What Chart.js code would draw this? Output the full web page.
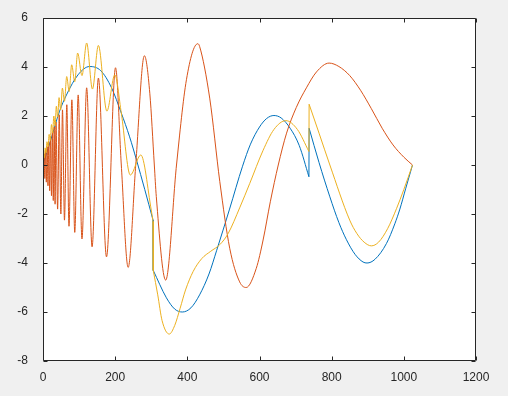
<!DOCTYPE html>
<html>
<head>
<meta charset="utf-8">
<script src="https://cdn.jsdelivr.net/npm/chart.js@4/dist/chart.umd.min.js"></script>
<style>
  body { margin: 0; background: #f0f0f0; }
  #wrap { width: 508px; height: 396px; }
</style>
</head>
<body>
<div id="wrap"><canvas id="chart" width="508" height="396"></canvas></div>
<script>
// axis ticks
var xTicks = [0, 200, 400, 600, 800, 1000, 1200];
var yTicks = [-8, -6, -4, -2, 0, 2, 4, 6];

// blue series, jumps at x ~305 and ~737
var blueX = [0, 20, 46, 65, 97, 129, 160, 190, 217, 240, 259, 282, 305, 305.5, 342, 365, 386, 410, 434, 460, 481, 517, 553, 575, 600, 620, 640, 660, 685, 710, 737, 737.5, 765, 795, 820, 841, 865, 887, 898, 920, 952, 975, 989, 1005, 1024];
var blueY = [0, 0.95, 2.2, 2.86, 3.68, 4.02, 3.85, 3.15, 2.12, 1.15, 0.21, -1.0, -2.25, -4.3, -5.42, -5.88, -6.0, -5.83, -5.3, -4.45, -3.5, -1.8, -0.05, 0.85, 1.55, 1.9, 2.02, 1.92, 1.5, 0.8, -0.48, 1.5, 0.1, -1.3, -2.35, -3.05, -3.65, -3.96, -4.0, -3.85, -3.2, -2.4, -1.8, -0.97, 0];

// red series
var redX = [0, 1, 3, 5, 7, 9.2, 11.5, 13.8, 16, 18.5, 21, 23.5, 26, 28.5, 31, 33.5, 36, 40.5, 45, 49.5, 54, 59.5, 66, 72, 80, 88, 97.5, 108, 121, 136, 153.5, 176, 201, 217, 236, 257, 281, 296, 308.5, 314, 340, 370, 397.5, 429, 434, 462, 490, 517.5, 545, 563, 591, 610, 630, 652, 675, 702, 730, 758, 793, 820, 850, 880, 910, 940, 970, 1000, 1024];
var redY = [0, -0.45, 0.45, -0.55, 0.6, -0.7, 0.75, -0.85, 0.95, -1.05, 1.15, -1.25, 1.35, -1.45, 1.55, -1.6, 1.75, -1.8, 2.05, -2.0, 2.25, -2.25, 2.46, -2.5, 2.66, -2.75, 2.86, -3.02, 3.15, -3.34, 3.55, -3.75, 3.97, 0, -4.18, 0, 4.46, 2.93, 0, -1.29, -4.7, 0, 3.48, 4.95, 4.84, 2.73, -0.68, -3.4, -4.77, -5.0, -4.22, -3.06, -1.5, 0, 1.3, 2.35, 3.15, 3.8, 4.16, 4.02, 3.65, 3.05, 2.3, 1.5, 0.82, 0.32, 0];

// yellow series, same jumps as blue
var yellowX = [0, 2, 4, 6, 8.5, 11, 14, 17, 20, 23.5, 26.7, 30, 33.5, 37, 40.7, 44.5, 49, 53.7, 59.5, 65.7, 72.5, 79.5, 88, 96, 108, 121, 137, 153.5, 177, 199, 217, 242, 271, 300, 305, 305.5, 318, 330, 350, 365, 380, 395, 416, 440, 465, 490, 513, 545, 573, 610, 640, 673, 705, 737, 737.5, 765, 795, 850, 870, 890, 910, 930, 955, 980, 1000, 1024];
var yellowY = [0.15, 0.45, 0.3, 0.7, 0.5, 0.95, 0.75, 1.25, 1.0, 1.65, 1.3, 2.0, 1.6, 2.4, 1.95, 2.75, 2.25, 3.14, 2.6, 3.61, 3.0, 4.09, 3.4, 4.57, 3.65, 4.98, 3.1, 4.88, 2.2, 3.68, 2.12, -0.41, 0.41, -1.84, -2.3, -4.3, -5.3, -6.35, -6.9, -6.55, -5.85, -5.1, -4.35, -3.82, -3.52, -3.25, -2.8, -1.75, -0.75, 0.6, 1.45, 1.81, 1.45, 0.55, 2.48, 1.3, 0, -2.25, -2.8, -3.15, -3.3, -3.15, -2.6, -1.77, -1.0, 0];

// split a series into smooth pieces, with straight vertical pieces at the jumps
function makeSets(xs, ys, color, order) {
  var sets = [];
  var piece = [];
  for (var i = 0; i < xs.length; i++) {
    piece.push({ x: xs[i], y: ys[i] });
    if (i < xs.length - 1 && xs[i + 1] - xs[i] < 1) {
      sets.push(lineSet(piece, color, order, true));
      sets.push(lineSet([{ x: xs[i], y: ys[i] }, { x: xs[i + 1], y: ys[i + 1] }], color, order, false));
      piece = [];
    }
  }
  sets.push(lineSet(piece, color, order, true));
  return sets;
}

function lineSet(points, color, order, smooth) {
  return {
    data: points,
    borderColor: color,
    backgroundColor: color,
    borderWidth: 1,
    pointRadius: 0,
    showLine: true,
    fill: false,
    tension: 0,
    cubicInterpolationMode: smooth ? 'monotone' : 'default',
    order: order
  };
}

var axisColor = '#262626';
var tickFont = { family: 'Liberation Sans, Arial, sans-serif', size: 12 };

// plot box, white plot area and inward tick marks like the original
var boxPlugin = {
  id: 'box',
  beforeDraw: function(chart) {
    var c = chart.ctx, a = chart.chartArea;
    c.save();
    c.fillStyle = '#f0f0f0';
    c.fillRect(0, 0, chart.width, chart.height);
    c.fillStyle = '#ffffff';
    c.fillRect(a.left, a.top, a.right - a.left, a.bottom - a.top);
    c.restore();
  },
  afterDraw: function(chart) {
    var c = chart.ctx, a = chart.chartArea;
    var xs = chart.scales.x, ys = chart.scales.y;
    var L = Math.round(a.left) + 0.5, R = Math.round(a.right) - 0.5;
    var T = Math.round(a.top) + 0.5, B = Math.round(a.bottom) - 0.5;
    var len = 4;
    c.save();
    c.strokeStyle = axisColor;
    c.lineWidth = 1;
    c.beginPath();
    c.rect(L, T, R - L, B - T);
    xTicks.forEach(function(v) {
      var px = Math.round(xs.getPixelForValue(v)) + 0.5;
      c.moveTo(px, B); c.lineTo(px, B - len);
      c.moveTo(px, T); c.lineTo(px, T + len);
    });
    yTicks.forEach(function(v) {
      var py = Math.round(ys.getPixelForValue(v)) + 0.5;
      c.moveTo(L, py); c.lineTo(L + len, py);
      c.moveTo(R, py); c.lineTo(R - len, py);
    });
    c.stroke();
    c.restore();
  }
};

var allSets = []
  .concat(makeSets(blueX, blueY, '#0072BD', 2))
  .concat(makeSets(redX, redY, '#D95319', 1))
  .concat(makeSets(yellowX, yellowY, '#EDB120', 0));

var ctx = document.getElementById('chart').getContext('2d');
var chart = new Chart(ctx, {
  type: 'scatter',
  data: { datasets: allSets },
  options: {
    responsive: false,
    animation: false,
    devicePixelRatio: 1,
    layout: { padding: { top: 18, right: 32, left: 0, bottom: 0 } },
    plugins: {
      legend: { display: false },
      tooltip: { enabled: false }
    },
    scales: {
      x: {
        type: 'linear',
        min: 0,
        max: 1200,
        grid: { display: false },
        border: { display: false },
        afterBuildTicks: function(scale) {
          scale.ticks = xTicks.map(function(v) { return { value: v }; });
        },
        afterFit: function(scale) { scale.height = 35; },
        ticks: {
          color: axisColor, font: tickFont, padding: 1, maxRotation: 0,
          callback: function(v) { return String(v); }
        }
      },
      y: {
        type: 'linear',
        min: -8,
        max: 6,
        grid: { display: false },
        border: { display: false },
        afterBuildTicks: function(scale) {
          scale.ticks = yTicks.map(function(v) { return { value: v }; });
        },
        afterFit: function(scale) { scale.width = 43; },
        ticks: {
          color: axisColor, font: tickFont, padding: 7,
          callback: function(v) { return String(v); }
        }
      }
    }
  },
  plugins: [boxPlugin]
});
</script>
</body>
</html>
